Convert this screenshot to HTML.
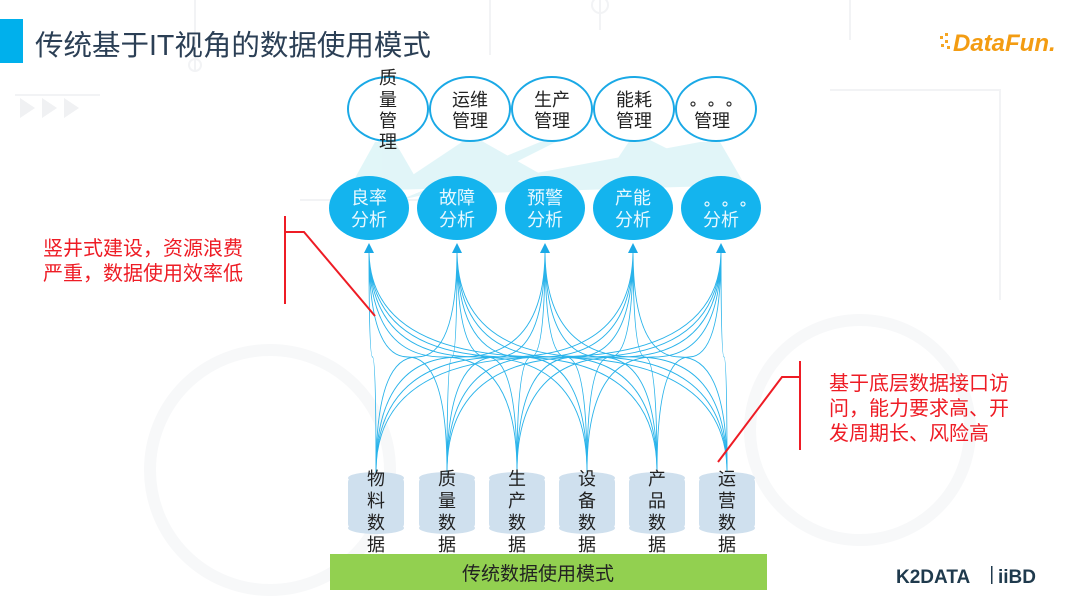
<!DOCTYPE html>
<html><head><meta charset="utf-8"><style>
html,body{margin:0;padding:0;background:#fff;}
svg{display:block;}
text{font-family:"Liberation Sans","Noto Sans CJK SC",sans-serif;}
</style></head><body>
<svg width="1080" height="608" viewBox="0 0 1080 608" xmlns="http://www.w3.org/2000/svg">
<rect width="1080" height="608" fill="#fff"/>
<!-- faint background -->
<g stroke="#f2f3f5" stroke-width="2" fill="none">
<path d="M195 0V70M490 0V55M600 0V30M850 0V40M830 90H1000V300M300 200H440M15 95H100"/>
<circle cx="195" cy="65" r="6"/><circle cx="600" cy="5" r="8"/>
<circle cx="270" cy="470" r="120" stroke="#f7f8f9" stroke-width="12"/>
<circle cx="860" cy="430" r="110" stroke="#f7f8f9" stroke-width="12"/>
</g>
<g fill="#f0f1f3"><polygon points="20,98 35,108 20,118"/><polygon points="42,98 57,108 42,118"/><polygon points="64,98 79,108 64,118"/></g>
<!-- title -->
<rect x="0" y="19" width="23" height="44" fill="#00b0ec"/>
<text x="35" y="55" font-size="28.5" fill="#2b3f55">传统基于IT视角的数据使用模式</text>
<!-- DataFun logo -->
<g fill="#f5a623"><rect x="940" y="36" width="3" height="3"/><rect x="945" y="40" width="3" height="3"/><rect x="941" y="44" width="3" height="3"/><rect x="947" y="46" width="3" height="3"/><rect x="945" y="33" width="3" height="3"/></g>
<text x="953" y="51" font-size="24" font-weight="bold" font-style="italic" fill="#f39c12">DataFun.</text>
<!-- shaded connectors -->
<g fill="#c9eef3" opacity="0.55">
<polygon points="375,142 395,142 420,185 340,205"/>
<polygon points="465,140 480,140 560,185 390,190"/>
<polygon points="545,140 560,140 470,185 400,200"/>
<polygon points="630,140 650,140 740,185 600,185"/>
<polygon points="700,142 720,142 745,185 420,195"/>
</g>
<!-- top ellipses -->
<g fill="#fff" stroke="#1aa9e6" stroke-width="2">
<ellipse cx="388" cy="109" rx="40" ry="32"/><ellipse cx="470" cy="109" rx="40" ry="32"/>
<ellipse cx="552" cy="109" rx="40" ry="32"/><ellipse cx="634" cy="109" rx="40" ry="32"/>
<ellipse cx="716" cy="109" rx="40" ry="32"/>
</g>
<g font-size="18" fill="#222" text-anchor="middle">
<text x="388" y="84">质</text><text x="388" y="106">量</text><text x="388" y="127">管</text><text x="388" y="148">理</text>
<text x="470" y="106">运维</text><text x="470" y="127">管理</text>
<text x="552" y="106">生产</text><text x="552" y="127">管理</text>
<text x="634" y="106">能耗</text><text x="634" y="127">管理</text>
<text x="712" y="127">管理</text>
</g>
<g fill="none" stroke="#333" stroke-width="1.2">
<circle cx="693" cy="104" r="2"/><circle cx="711" cy="104" r="2"/><circle cx="729" cy="104" r="2"/>
</g>
<!-- analysis ellipses -->
<g fill="#14b4ee">
<ellipse cx="369" cy="208" rx="40" ry="32"/><ellipse cx="457" cy="208" rx="40" ry="32"/>
<ellipse cx="545" cy="208" rx="40" ry="32"/><ellipse cx="633" cy="208" rx="40" ry="32"/>
<ellipse cx="721" cy="208" rx="40" ry="32"/>
</g>
<g font-size="18" fill="#e8f8ff" text-anchor="middle">
<text x="369" y="204">良率</text><text x="369" y="226">分析</text>
<text x="457" y="204">故障</text><text x="457" y="226">分析</text>
<text x="545" y="204">预警</text><text x="545" y="226">分析</text>
<text x="633" y="204">产能</text><text x="633" y="226">分析</text>
<text x="721" y="226">分析</text>
</g>
<g fill="none" stroke="#e8f8ff" stroke-width="1.2">
<circle cx="707" cy="204" r="2"/><circle cx="725" cy="204" r="2"/><circle cx="743" cy="204" r="2"/>
</g>
<!-- curves -->
<g stroke="#29b3ea" stroke-width="0.9" fill="none">
<path d="M369 250Q369 357 372.5 357Q376 357 376 472M369 250Q369 357 408 357Q447 357 447 472M369 250Q369 357 443 357Q517 357 517 472M369 250Q369 357 478 357Q587 357 587 472M369 250Q369 357 513 357Q657 357 657 472M369 250Q369 357 548 357Q727 357 727 472"/>
<path d="M457 250Q457 357 416.5 357Q376 357 376 472M457 250Q457 357 452 357Q447 357 447 472M457 250Q457 357 487 357Q517 357 517 472M457 250Q457 357 522 357Q587 357 587 472M457 250Q457 357 557 357Q657 357 657 472M457 250Q457 357 592 357Q727 357 727 472"/>
<path d="M545 250Q545 357 460.5 357Q376 357 376 472M545 250Q545 357 496 357Q447 357 447 472M545 250Q545 357 531 357Q517 357 517 472M545 250Q545 357 566 357Q587 357 587 472M545 250Q545 357 601 357Q657 357 657 472M545 250Q545 357 636 357Q727 357 727 472"/>
<path d="M633 250Q633 357 504.5 357Q376 357 376 472M633 250Q633 357 540 357Q447 357 447 472M633 250Q633 357 575 357Q517 357 517 472M633 250Q633 357 610 357Q587 357 587 472M633 250Q633 357 645 357Q657 357 657 472M633 250Q633 357 680 357Q727 357 727 472"/>
<path d="M721 250Q721 357 548.5 357Q376 357 376 472M721 250Q721 357 584 357Q447 357 447 472M721 250Q721 357 619 357Q517 357 517 472M721 250Q721 357 654 357Q587 357 587 472M721 250Q721 357 689 357Q657 357 657 472M721 250Q721 357 724 357Q727 357 727 472"/>
</g>
<g fill="#1aa9e6">
<polygon points="369,243 364,253 374,253"/><polygon points="457,243 452,253 462,253"/>
<polygon points="545,243 540,253 550,253"/><polygon points="633,243 628,253 638,253"/>
<polygon points="721,243 716,253 726,253"/>
</g>
<!-- cylinders -->
<g fill="#cfe0ee">
<rect x="348" y="478" width="56" height="50" rx="4"/><ellipse cx="376" cy="478" rx="28" ry="6"/><ellipse cx="376" cy="528" rx="28" ry="6"/>
<rect x="419" y="478" width="56" height="50" rx="4"/><ellipse cx="447" cy="478" rx="28" ry="6"/><ellipse cx="447" cy="528" rx="28" ry="6"/>
<rect x="489" y="478" width="56" height="50" rx="4"/><ellipse cx="517" cy="478" rx="28" ry="6"/><ellipse cx="517" cy="528" rx="28" ry="6"/>
<rect x="559" y="478" width="56" height="50" rx="4"/><ellipse cx="587" cy="478" rx="28" ry="6"/><ellipse cx="587" cy="528" rx="28" ry="6"/>
<rect x="629" y="478" width="56" height="50" rx="4"/><ellipse cx="657" cy="478" rx="28" ry="6"/><ellipse cx="657" cy="528" rx="28" ry="6"/>
<rect x="699" y="478" width="56" height="50" rx="4"/><ellipse cx="727" cy="478" rx="28" ry="6"/><ellipse cx="727" cy="528" rx="28" ry="6"/>
</g>
<g font-size="18" fill="#222" text-anchor="middle">
<text x="376" y="485">物</text><text x="376" y="507">料</text><text x="376" y="529">数</text><text x="376" y="551">据</text>
<text x="447" y="485">质</text><text x="447" y="507">量</text><text x="447" y="529">数</text><text x="447" y="551">据</text>
<text x="517" y="485">生</text><text x="517" y="507">产</text><text x="517" y="529">数</text><text x="517" y="551">据</text>
<text x="587" y="485">设</text><text x="587" y="507">备</text><text x="587" y="529">数</text><text x="587" y="551">据</text>
<text x="657" y="485">产</text><text x="657" y="507">品</text><text x="657" y="529">数</text><text x="657" y="551">据</text>
<text x="727" y="485">运</text><text x="727" y="507">营</text><text x="727" y="529">数</text><text x="727" y="551">据</text>
</g>
<!-- green bar -->
<rect x="330" y="554" width="437" height="36" fill="#92d050"/>
<text x="538" y="580" font-size="19" fill="#222" text-anchor="middle">传统数据使用模式</text>
<!-- red annotations -->
<g stroke="#ee1c25" stroke-width="2" fill="none">
<path d="M285 216V304M285 232H304L375 316"/>
<path d="M800 361V450M800 377H782L718 462"/>
</g>
<g font-size="20" fill="#ee1c25">
<text x="43" y="255">竖井式建设，资源浪费</text>
<text x="43" y="280">严重，数据使用效率低</text>
<text x="829" y="390">基于底层数据接口访</text>
<text x="829" y="415">问，能力要求高、开</text>
<text x="829" y="440">发周期长、风险高</text>
</g>
<!-- K2DATA logo -->
<text x="896" y="583" font-size="19" font-weight="bold" fill="#1f3a4d">K2DATA</text>
<rect x="991" y="566" width="1.5" height="18" fill="#1f3a4d"/>
<text x="998" y="583" font-size="19" font-weight="bold" fill="#1f3a4d">iiBD</text>
</svg>
</body></html>
